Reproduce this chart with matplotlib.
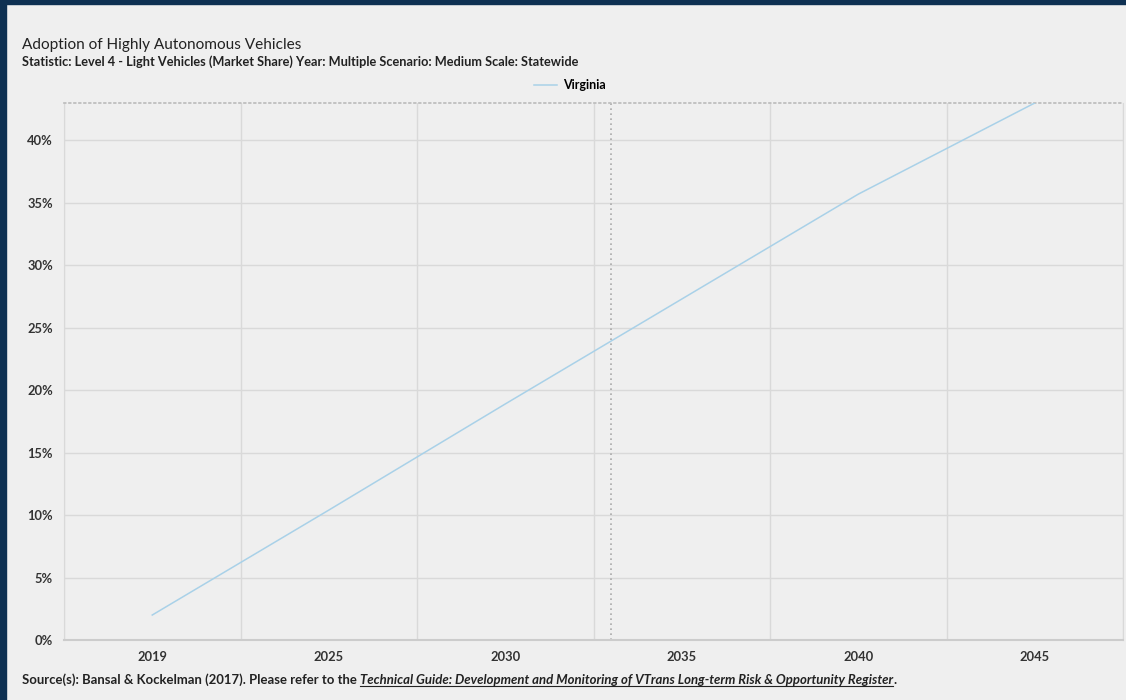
# Adoption of Highly Autonomous Vehicles - line chart for Virginia
import numpy as np
import matplotlib.pyplot as plt
from matplotlib.patches import Rectangle

plt.rcParams['font.family'] = ['Lato', 'DejaVu Sans']

# data
years = ["2019", "2025", "2030", "2035", "2040", "2045"]
share = [2.0, 10.4, 18.9, 27.3, 35.7, 43.0]  # percent
year_values = [2019, 2025, 2030, 2035, 2040, 2045]
marker_year = 2033  # dotted vertical line
y_ticks = [0, 5, 10, 15, 20, 25, 30, 35, 40]

bg = "#efefef"
navy = "#0e3052"
grid_col = "#d9d9d9"
text_col = "#333333"

fig = plt.figure(figsize=(11.26, 7.0), dpi=100, facecolor=bg)

# navy frame on the top and left edges
fig.patches.append(Rectangle((0, 1 - 4 / 700), 1, 4 / 700, transform=fig.transFigure, color=navy, zorder=10))
fig.patches.append(Rectangle((0, 0), 6 / 1126, 1, transform=fig.transFigure, color=navy, zorder=10))

ax = fig.add_axes([64 / 1126, 1 - 640 / 700, (1123 - 64) / 1126, (640 - 103) / 700])
ax.set_facecolor(bg)

x = np.arange(len(years))
ax.plot(x, share, color="#a9d1e8", linewidth=1.1, label="Virginia", zorder=3)

ax.set_xlim(-0.5, len(years) - 0.5)
ax.set_ylim(0, 43.0)

# vertical grid at the category boundaries
ax.set_xticks(x)
ax.set_xticklabels(years)
ax.set_xticks(np.arange(-0.5, len(years)), minor=True)
ax.grid(True, which="minor", axis="x", color=grid_col, linewidth=1)
ax.set_yticks(y_ticks)
ax.set_yticklabels([f"{t}%" for t in y_ticks])
ax.grid(True, which="major", axis="y", color=grid_col, linewidth=1)
ax.tick_params(which="both", length=0)
ax.tick_params(axis="x", pad=8, labelsize=9.3, labelcolor=text_col)
ax.tick_params(axis="y", pad=8, labelsize=9.3, labelcolor=text_col)
for lab in ax.get_xticklabels() + ax.get_yticklabels():
    lab.set_fontweight("bold")

# dotted marker line at the chosen year
mx = np.interp(marker_year, year_values, x)
ax.axvline(mx, color="#aaaaaa", linestyle=(0, (1, 2)), linewidth=1.2, zorder=2)

ax.spines["top"].set_linestyle((0, (1, 2)))
ax.spines["top"].set_color("#bbbbbb")
ax.spines["top"].set_linewidth(1.2)
ax.spines["bottom"].set_color("#cccccc")
ax.spines["bottom"].set_linewidth(1.5)
ax.spines["left"].set_color(grid_col)
ax.spines["right"].set_color(grid_col)

ax.legend(loc="center", bbox_to_anchor=(570 / 1126, 1 - 85 / 700), bbox_transform=fig.transFigure,
          frameon=False, handlelength=1.8, handletextpad=0.5,
          prop={"weight": "bold", "size": 9})

fig.text(22 / 1126, 1 - 45 / 700, "Adoption of Highly Autonomous Vehicles", fontsize=11.1,
         color="#222222", va="center", ha="left")
fig.text(22 / 1126, 1 - 62 / 700,
         "Statistic: Level 4 - Light Vehicles (Market Share) Year: Multiple Scenario: Medium Scale: Statewide",
         fontsize=9.2, fontweight="bold", color="#222222", va="center", ha="left")

# source line with italic underlined link text
fig.canvas.draw()
renderer = fig.canvas.get_renderer()
src_y = 1 - 684 / 700
src1 = fig.text(22 / 1126, src_y, "Source(s): Bansal & Kockelman (2017). Please refer to the ",
                fontsize=9.45, fontweight="bold", color="#222222", va="baseline", ha="left")
bb = src1.get_window_extent(renderer)
src2 = fig.text(bb.x1 / fig.bbox.width, src_y,
                "Technical Guide: Development and Monitoring of VTrans Long-term Risk & Opportunity Register",
                fontsize=9.45, fontweight="bold", style="italic", color="#222222", va="baseline", ha="left")
bb2 = src2.get_window_extent(renderer)
uy = 1 - 686 / 700
fig.add_artist(plt.Line2D([bb2.x0 / fig.bbox.width, bb2.x1 / fig.bbox.width], [uy, uy],
                          transform=fig.transFigure, color="#222222", linewidth=0.8))
fig.text(bb2.x1 / fig.bbox.width, src_y, ".", fontsize=9.45, fontweight="bold",
         color="#222222", va="baseline", ha="left")

fig.savefig("out.png", dpi=100, facecolor=bg)
